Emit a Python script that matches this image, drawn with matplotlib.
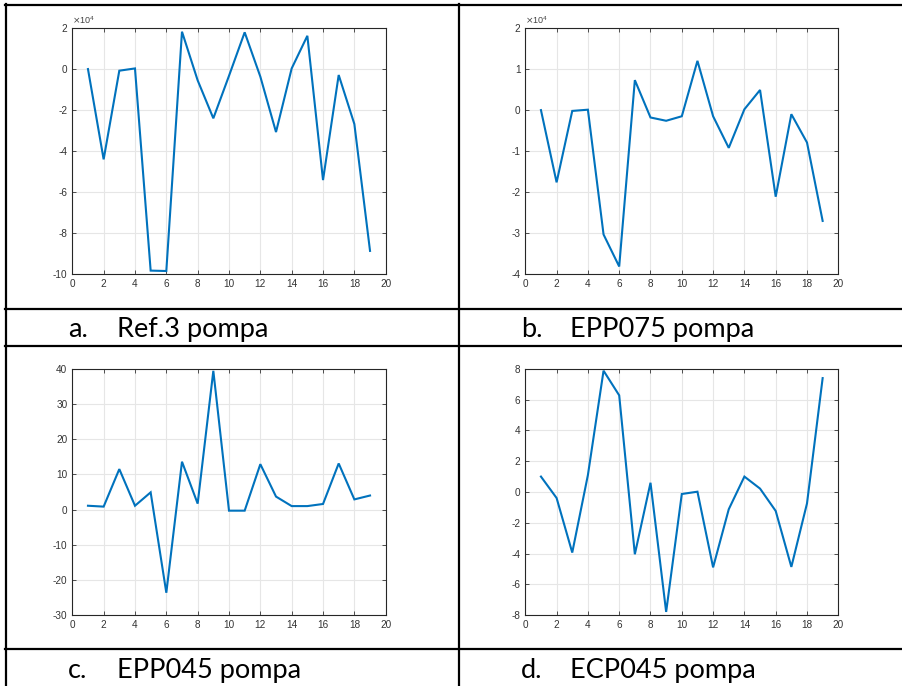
import matplotlib
matplotlib.use("Agg")
import matplotlib.pyplot as plt
from matplotlib.lines import Line2D

# x positions (sample index)
x_idx = list(range(1, 20))

# a. Ref.3 pompa (values in units of 1e4)
ref3 = [0.0, -4.4, -0.08, 0.03, -9.82, -9.84, 1.82, -0.55, -2.4, -0.33,
        1.79, -0.37, -3.07, 0.03, 1.62, -5.41, -0.29, -2.68, -8.86]
# b. EPP075 pompa (values in units of 1e4)
epp075 = [0.0, -1.76, -0.02, 0.01, -3.03, -3.81, 0.73, -0.18, -0.26, -0.15,
          1.2, -0.15, -0.92, 0.02, 0.49, -2.11, -0.1, -0.79, -2.7]
# c. EPP045 pompa
epp045 = [1.1, 0.85, 11.5, 1.1, 4.9, -23.6, 13.6, 1.7, 39.4, -0.3,
          -0.3, 12.9, 3.7, 1.0, 1.0, 1.6, 13.1, 2.9, 4.0]
# d. ECP045 pompa
ecp045 = [1.0, -0.39, -3.93, 1.1, 7.87, 6.27, -4.04, 0.6, -7.78, -0.13,
          0.02, -4.89, -1.12, 1.0, 0.22, -1.23, -4.86, -0.74, 7.39]

captions = ["a.", "b.", "c.", "d."]
names = ["Ref.3 pompa", "EPP075 pompa", "EPP045 pompa", "ECP045 pompa"]
xticks = list(range(0, 21, 2))
yticks_list = [list(range(-10, 3, 2)), list(range(-4, 3, 1)),
               list(range(-30, 41, 10)), list(range(-8, 9, 2))]
exps = [4, 4, None, None]

W, H = 902, 686
fig = plt.figure(figsize=(W / 100, H / 100), dpi=100)
fig.patch.set_facecolor("white")

def px_axes(x0, y0, x1, y1):
    return [x0 / W, 1 - y1 / H, (x1 - x0) / W, (y1 - y0) / H]

rects = [px_axes(72.3, 28, 385.7, 274.3), px_axes(525.3, 28, 838.3, 274.3),
         px_axes(72.3, 368.7, 385.7, 615.3), px_axes(525.3, 368.7, 838.3, 615.3)]
series = [ref3, epp075, epp045, ecp045]

for i in range(4):
    ax = fig.add_axes(rects[i])
    ax.plot(x_idx, series[i], color="#0072BD", lw=1.5, solid_joinstyle="miter")
    yt = yticks_list[i]
    ax.set_xlim(0, 20)
    ax.set_ylim(yt[0], yt[-1])
    ax.set_xticks(xticks)
    ax.set_yticks(yt)
    ax.set_xticklabels([str(v) for v in xticks])
    ax.set_yticklabels([str(v) for v in yt])
    ax.grid(True, color="#e6e6e6", lw=0.8)
    ax.set_axisbelow(True)
    ax.tick_params(direction="in", length=3, width=0.6, top=True, right=True,
                   labelsize=7.2, colors="#333333", pad=3.5)
    for lab in ax.get_xticklabels() + ax.get_yticklabels():
        lab.set_fontfamily("Liberation Sans")
    for s in ax.spines.values():
        s.set_color("#262626")
        s.set_linewidth(0.8)
    if exps[i]:
        ax.text(0.0, 1.008, r"$\times\mathregular{10^{%d}}$" % exps[i],
                transform=ax.transAxes, fontsize=6.5, color="#444444",
                ha="left", va="bottom", family="Liberation Sans")

# table lines
def hline(y, x0, x1):
    fig.add_artist(Line2D([x0 / W, x1 / W], [1 - y / H, 1 - y / H],
                          color="black", lw=1.6, transform=fig.transFigure))

def vline(x, y0, y1):
    fig.add_artist(Line2D([x / W, x / W], [1 - y0 / H, 1 - y1 / H],
                          color="black", lw=1.6, transform=fig.transFigure))

hline(5, 5, W)
hline(309, 5, W)
hline(346, 5, W)
hline(649, 5, W)
vline(6, 4, H)
vline(459, 4, H)

cap_pos = [(68, 117, 337), (521, 570, 337), (68, 117, 678), (521, 570, 678)]
for i in range(4):
    xa, xb, yb = cap_pos[i]
    fig.text(xa / W, 1 - yb / H, captions[i], fontsize=19.5, family="Lato",
             ha="left", va="baseline", color="black")
    fig.text(xb / W, 1 - yb / H, names[i], fontsize=19.5, family="Lato",
             ha="left", va="baseline", color="black")

fig.savefig("out.png", dpi=100)
